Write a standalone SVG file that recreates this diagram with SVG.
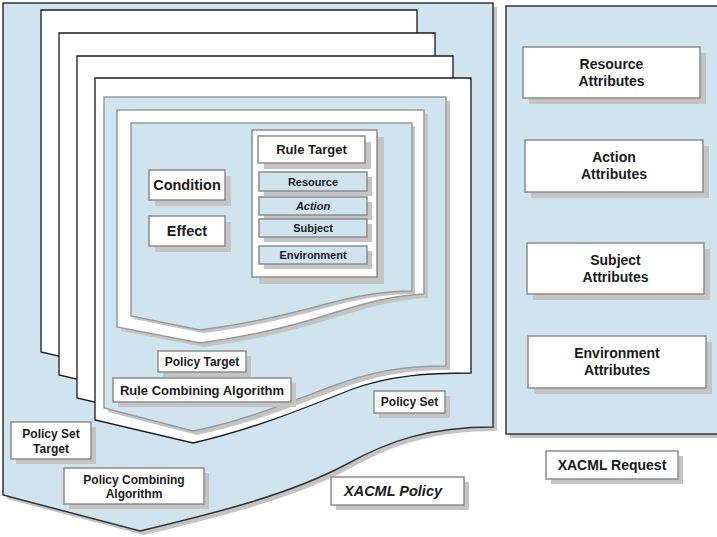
<svg xmlns="http://www.w3.org/2000/svg" width="717" height="537" viewBox="0 0 717 537">
<defs>
<style>
.bg{fill:#ffffff}
.blue{fill:#d0e4f0}
.shadow{fill:#c4c4c4;stroke:none}
.dark{stroke:#333333;stroke-width:1.5}
.page{fill:#ffffff;stroke:#1a1a1a;stroke-width:1.3}
.soft{stroke:#9a9a9a;stroke-width:1.5}
.box{fill:#ffffff;stroke:#8c8c8c;stroke-width:1.5}
.bbox{fill:#d0e4f0;stroke:#8c8c8c;stroke-width:1.5}
text{font-family:"Liberation Sans",Arial,sans-serif;font-weight:bold;fill:#1a1a1a;text-anchor:middle}
.t11{font-size:11px}
.t12{font-size:12px}
.t13{font-size:13px}
.t14{font-size:14px}
.t145{font-size:14.5px}
.it{font-style:italic}
</style>
<path id="pageShape" d="M95,78 H471 V373 C430,373 390,375 350,390 C300,410 250,430 193,443 L95,420 Z"/>
</defs>
<rect x="0" y="0" width="717" height="537" class="bg"/>

<g id="xacml-policy">
<path class="shadow" transform="translate(4,4)" d="M3,3 H493 V427 C430,427 390,440 345,465 C290,494 220,512 140,531 L3,495 Z"/>
<path class="blue dark" d="M3,3 H493 V427 C430,427 390,440 345,465 C290,494 220,512 140,531 L3,495 Z"/>
</g>

<g id="pages">
<use href="#pageShape" class="page" transform="translate(-54,-68)"/>
<use href="#pageShape" class="page" transform="translate(-36,-45)"/>
<use href="#pageShape" class="page" transform="translate(-18,-22)"/>
<use href="#pageShape" class="page"/>
</g>

<g id="policy-set">
<path class="shadow" transform="translate(4,4)" d="M104,97 H446 V366 C400,366 370,372 330,387 C290,402 240,422 193,431 L104,408 Z"/>
<path class="blue soft" d="M104,97 H446 V366 C400,366 370,372 330,387 C290,402 240,422 193,431 L104,408 Z"/>
</g>

<g id="policy">
<path class="shadow" transform="translate(4,4)" d="M117,110 H424 V294 C395,295 365,303 330,314 C290,327 245,337 200,343 L117,327 Z"/>
<path class="bg soft" d="M117,110 H424 V294 C395,295 365,303 330,314 C290,327 245,337 200,343 L117,327 Z"/>
</g>

<g id="rule">
<path class="shadow" transform="translate(3,3)" d="M131,123 H412 V291 C385,291 360,295 330,303 C290,314 250,324 200,330 L131,316 Z"/>
<path class="blue soft" d="M131,123 H412 V291 C385,291 360,295 330,303 C290,314 250,324 200,330 L131,316 Z"/>
</g>

<g id="condition">
<rect class="shadow" x="155" y="176" width="76" height="30"/>
<rect class="box" x="149" y="170" width="76" height="30"/>
<text class="t145" x="187" y="190">Condition</text>
</g>
<g id="effect">
<rect class="shadow" x="155" y="222" width="76" height="30"/>
<rect class="box" x="149" y="216" width="76" height="30"/>
<text class="t145" x="187" y="236">Effect</text>
</g>

<g id="rule-target">
<rect class="shadow" x="259" y="137" width="125" height="147"/>
<rect class="box" x="252" y="130" width="125" height="147"/>
<rect class="shadow" x="264" y="142" width="107" height="27"/>
<rect class="box" x="258" y="136" width="107" height="27"/>
<text class="t13" x="311.5" y="154">Rule Target</text>
</g>
<g id="resource">
<rect class="shadow" x="264" y="177" width="108" height="19"/>
<rect class="bbox" x="259" y="172" width="108" height="19"/>
<text class="t11" x="313" y="185.5">Resource</text>
</g>
<g id="action">
<rect class="shadow" x="264" y="202" width="108" height="18"/>
<rect class="bbox" x="259" y="197" width="108" height="18"/>
<text class="t11 it" x="313" y="210">Action</text>
</g>
<g id="subject">
<rect class="shadow" x="264" y="224" width="108" height="18"/>
<rect class="bbox" x="259" y="219" width="108" height="18"/>
<text class="t11" x="313" y="232">Subject</text>
</g>
<g id="environment">
<rect class="shadow" x="264" y="251" width="108" height="18"/>
<rect class="bbox" x="259" y="246" width="108" height="18"/>
<text class="t11" x="313" y="259">Environment</text>
</g>

<g id="policy-target">
<rect class="shadow" x="163" y="356" width="88" height="21"/>
<rect class="box" x="158" y="351" width="88" height="21"/>
<text class="t12" x="202" y="366">Policy Target</text>
</g>
<g id="rule-combining-algorithm">
<rect class="shadow" x="118" y="383" width="178" height="24"/>
<rect class="box" x="113" y="378" width="178" height="24"/>
<text class="t13" x="202" y="394.5">Rule Combining Algorithm</text>
</g>
<g id="policy-set-label">
<rect class="shadow" x="379" y="396" width="71" height="22"/>
<rect class="box" x="374" y="391" width="71" height="22"/>
<text class="t12" x="409.5" y="406">Policy Set</text>
</g>
<g id="policy-set-target">
<rect class="shadow" x="16" y="427" width="80" height="37"/>
<rect class="box" x="11" y="422" width="80" height="37"/>
<text class="t12" x="51" y="438">Policy Set</text>
<text class="t12" x="51" y="453">Target</text>
</g>
<g id="policy-combining-algorithm">
<rect class="shadow" x="69" y="473" width="140" height="36"/>
<rect class="box" x="64" y="468" width="140" height="36"/>
<text class="t12" x="134" y="484">Policy Combining</text>
<text class="t12" x="134" y="498">Algorithm</text>
</g>
<g id="xacml-policy-label">
<rect class="shadow" x="336" y="482" width="133" height="28"/>
<rect class="box" x="331" y="477" width="133" height="28"/>
<text class="t145 it" x="393" y="496">XACML Policy</text>
</g>

<g id="xacml-request">
<rect class="shadow" x="510" y="10" width="212" height="428"/>
<rect class="blue dark" x="506" y="6" width="215" height="428"/>
</g>
<g id="resource-attributes">
<rect class="shadow" x="529" y="53" width="177" height="51"/>
<rect class="box" x="523" y="47" width="177" height="51"/>
<text class="t14" x="611.5" y="69">Resource</text>
<text class="t14" x="611.5" y="86">Attributes</text>
</g>
<g id="action-attributes">
<rect class="shadow" x="531" y="146" width="178" height="52"/>
<rect class="box" x="525" y="140" width="178" height="52"/>
<text class="t14" x="614" y="162">Action</text>
<text class="t14" x="614" y="179">Attributes</text>
</g>
<g id="subject-attributes">
<rect class="shadow" x="533" y="249" width="177" height="51"/>
<rect class="box" x="527" y="243" width="177" height="51"/>
<text class="t14" x="615.5" y="265">Subject</text>
<text class="t14" x="615.5" y="282">Attributes</text>
</g>
<g id="environment-attributes">
<rect class="shadow" x="534" y="342" width="178" height="52"/>
<rect class="box" x="528" y="336" width="178" height="52"/>
<text class="t14" x="617" y="358">Environment</text>
<text class="t14" x="617" y="375">Attributes</text>
</g>
<g id="xacml-request-label">
<rect class="shadow" x="551" y="456" width="132" height="28"/>
<rect class="box" x="546" y="451" width="132" height="28"/>
<text class="t14" x="612" y="470">XACML Request</text>
</g>

<g id="connectors"></g>
</svg>
